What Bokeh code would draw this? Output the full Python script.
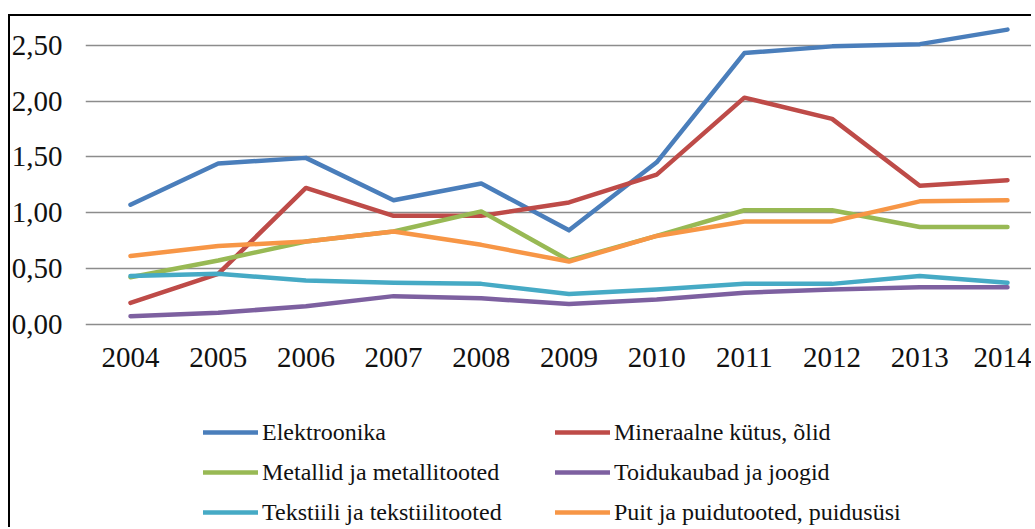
from bokeh.plotting import figure
from bokeh.models import (Range1d, FixedTicker, CustomJSTickFormatter, Legend,
                          LegendItem)
from bokeh.embed import file_html
from bokeh.resources import INLINE

years = [2004, 2005, 2006, 2007, 2008, 2009, 2010, 2011, 2012, 2013, 2014]
y_ticks = [0.0, 0.5, 1.0, 1.5, 2.0, 2.5]

names = ["Elektroonika", "Mineraalne kütus, õlid", "Metallid ja metallitooted",
         "Toidukaubad ja joogid", "Tekstiili ja tekstiilitooted",
         "Puit ja puidutooted, puidusüsi"]
elektroonika = [1.07, 1.44, 1.49, 1.11, 1.26, 0.84, 1.45, 2.43, 2.49, 2.51, 2.64]
mineraalne = [0.19, 0.45, 1.22, 0.97, 0.97, 1.09, 1.34, 2.03, 1.84, 1.24, 1.29]
metallid = [0.42, 0.57, 0.74, 0.83, 1.01, 0.57, 0.79, 1.02, 1.02, 0.87, 0.87]
toidukaubad = [0.07, 0.10, 0.16, 0.25, 0.23, 0.18, 0.22, 0.28, 0.31, 0.33, 0.33]
tekstiili = [0.43, 0.45, 0.39, 0.37, 0.36, 0.27, 0.31, 0.36, 0.36, 0.43, 0.37]
puit = [0.61, 0.70, 0.74, 0.83, 0.71, 0.56, 0.79, 0.92, 0.92, 1.10, 1.11]
colors = ["#4A7EBB", "#BE4B48", "#98B954", "#7D60A0", "#46AAC5", "#F79646"]
series = [elektroonika, mineraalne, metallid, toidukaubad, tekstiili, puit]

FONT = "Liberation Serif"

# the frame reaches down to the bottom of the picture; the empty part below zero
# holds the year labels (axis pinned at y = 0) and the legend
p = figure(width=1031, height=527, output_backend="svg", toolbar_location=None,
           x_range=Range1d(2003.487, 2014.274), y_range=Range1d(-1.825, 2.722),
           min_border_left=85, min_border_right=0, min_border_top=20,
           min_border_bottom=0)
# thin black frame around the picture (top and left edges), painted as CSS background
p.styles = {
    "background-color": "white",
    "background-image": "linear-gradient(#000000, #000000), linear-gradient(#000000, #000000)",
    "background-size": "2px 100%, 100% 2px",
    "background-position": "8px 14px, 8px 14px",
    "background-repeat": "no-repeat",
}
p.outline_line_color = None
p.background_fill_color = None
p.border_fill_color = None

p.xgrid.grid_line_color = None
p.ygrid.grid_line_color = "#8C8C8C"
p.ygrid.grid_line_width = 1.6
p.ygrid.ticker = FixedTicker(ticks=y_ticks)

p.yaxis.ticker = FixedTicker(ticks=y_ticks)
p.yaxis.formatter = CustomJSTickFormatter(code="return tick.toFixed(2).replace('.', ',');")
p.xaxis.ticker = FixedTicker(ticks=years)
p.xaxis.formatter = CustomJSTickFormatter(code="return tick.toFixed(0);")
p.xaxis.fixed_location = 0
for ax in (p.xaxis, p.yaxis):
    ax.axis_line_color = None
    ax.major_tick_line_color = None
    ax.minor_tick_line_color = None
    ax.major_tick_in = 0
    ax.major_tick_out = 0
    ax.minor_tick_in = 0
    ax.minor_tick_out = 0
    ax.major_label_text_font = FONT
    ax.major_label_text_font_size = "29px"
    ax.major_label_text_color = "#111111"
p.yaxis.major_label_standoff = 23
p.xaxis.major_label_standoff = 24

renderers = []
for name, vals, col in zip(names, series, colors):
    r = p.line(years, vals, line_color=col, line_width=4.5, line_join="round",
               line_cap="round")
    renderers.append(r)

order = [0, 2, 4, 1, 3, 5]
legend = Legend(items=[LegendItem(label=names[i], renderers=[renderers[i]]) for i in order],
                location=(118, -5), orientation="vertical", nrows=3)
legend.border_line_alpha = 0
legend.background_fill_alpha = 0
legend.padding = 0
legend.margin = 0
legend.glyph_width = 55
legend.glyph_height = 40
legend.label_height = 40
legend.label_width = 293
legend.label_standoff = 4
legend.spacing = 0
legend.label_text_font = FONT
legend.label_text_font_size = "24px"
legend.label_text_color = "#111111"
p.add_layout(legend)

open("out.html", "w").write(file_html(p, INLINE))
